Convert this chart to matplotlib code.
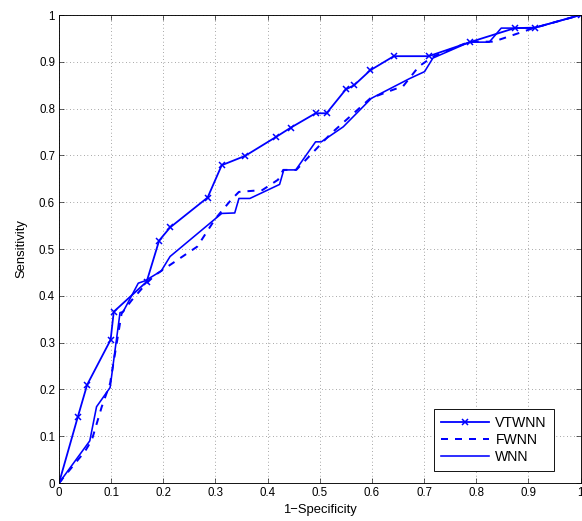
import matplotlib
matplotlib.use("Agg")
import matplotlib.pyplot as plt
from matplotlib.ticker import FormatStrFormatter

plt.rcParams['font.family'] = ['Liberation Sans', 'DejaVu Sans']
plt.rcParams['font.size'] = 11

# ROC points
fpr_vtwnn = [0, 0.036, 0.054, 0.099, 0.105, 0.168, 0.192, 0.213, 0.285, 0.312,
             0.357, 0.417, 0.444, 0.492, 0.513, 0.55, 0.566, 0.597, 0.642, 0.709,
             0.788, 0.874, 0.913, 1.0]
tpr_vtwnn = [0, 0.141, 0.21, 0.306, 0.366, 0.43, 0.518, 0.546, 0.61, 0.679,
             0.699, 0.74, 0.759, 0.79, 0.79, 0.841, 0.85, 0.882, 0.912, 0.912,
             0.942, 0.972, 0.973, 1.0]

fpr_fwnn = [0, 0.05, 0.063, 0.082, 0.098, 0.12, 0.139, 0.168, 0.184, 0.213,
            0.265, 0.30, 0.33, 0.345, 0.39, 0.42, 0.43, 0.455, 0.52, 0.565,
            0.597, 0.64, 0.66, 0.69, 0.717, 0.787, 0.833, 0.91, 1.0]
tpr_fwnn = [0, 0.068, 0.092, 0.163, 0.213, 0.362, 0.39, 0.427, 0.444, 0.466,
            0.505, 0.565, 0.605, 0.622, 0.626, 0.648, 0.669, 0.669, 0.745, 0.79,
            0.822, 0.84, 0.848, 0.89, 0.911, 0.943, 0.943, 0.972, 1.0]

fpr_wnn = [0, 0.059, 0.072, 0.098, 0.117, 0.123, 0.152, 0.165, 0.196, 0.213,
           0.312, 0.337, 0.345, 0.366, 0.423, 0.431, 0.454, 0.492, 0.503, 0.545,
           0.599, 0.672, 0.701, 0.717, 0.787, 0.825, 0.848, 0.91, 1.0]
tpr_wnn = [0, 0.09, 0.163, 0.204, 0.364, 0.366, 0.427, 0.432, 0.453, 0.484,
           0.576, 0.577, 0.608, 0.608, 0.638, 0.669, 0.669, 0.729, 0.729, 0.761,
           0.822, 0.864, 0.879, 0.908, 0.942, 0.942, 0.972, 0.972, 1.0]

ticks = [0, 0.1, 0.2, 0.3, 0.4, 0.5, 0.6, 0.7, 0.8, 0.9, 1]

fig = plt.figure(figsize=(582 / 72, 521 / 72), dpi=72)
ax = fig.add_axes([59 / 582, 38 / 521, 521.5 / 582, 468 / 521])

blue = '#0000ff'
ax.plot(fpr_vtwnn, tpr_vtwnn, color=blue, lw=1.8, marker='x', ms=6, mew=1.5,
        label='VTWNN')
ax.plot(fpr_fwnn, tpr_fwnn, color=blue, lw=2, ls=(0, (3.5, 3.5)), label='FWNN')
ax.plot(fpr_wnn, tpr_wnn, color=blue, lw=1.6, label='WNN')

ax.set_xlim(0, 1)
ax.set_ylim(0, 1)
ax.set_xticks(ticks)
ax.set_yticks(ticks)
ax.xaxis.set_major_formatter(FormatStrFormatter('%g'))
ax.yaxis.set_major_formatter(FormatStrFormatter('%g'))
ax.tick_params(direction='in', length=5, width=0.6, top=True, right=True,
               pad=4, labelsize=11.5)
ax.grid(True, color='0.35', ls=(0, (1, 4)), lw=0.7)
for s in ax.spines.values():
    s.set_linewidth(0.9)

ax.set_xlabel('1\u2212Specificity', fontsize=13)
ax.set_ylabel('Sensitivity', fontsize=13)
ax.xaxis.set_label_coords(0.5, -0.044)
ax.yaxis.set_label_coords(-0.06, 0.5)

leg = ax.legend(loc='lower left', bbox_to_anchor=(0.72, 0.026),
                borderaxespad=0, fancybox=False, edgecolor='black',
                handlelength=3.4, labelspacing=0.22, borderpad=0.5,
                handletextpad=0.45, framealpha=1, fontsize=14)
leg.get_frame().set_linewidth(0.9)

fig.savefig('out.png', dpi=72)
